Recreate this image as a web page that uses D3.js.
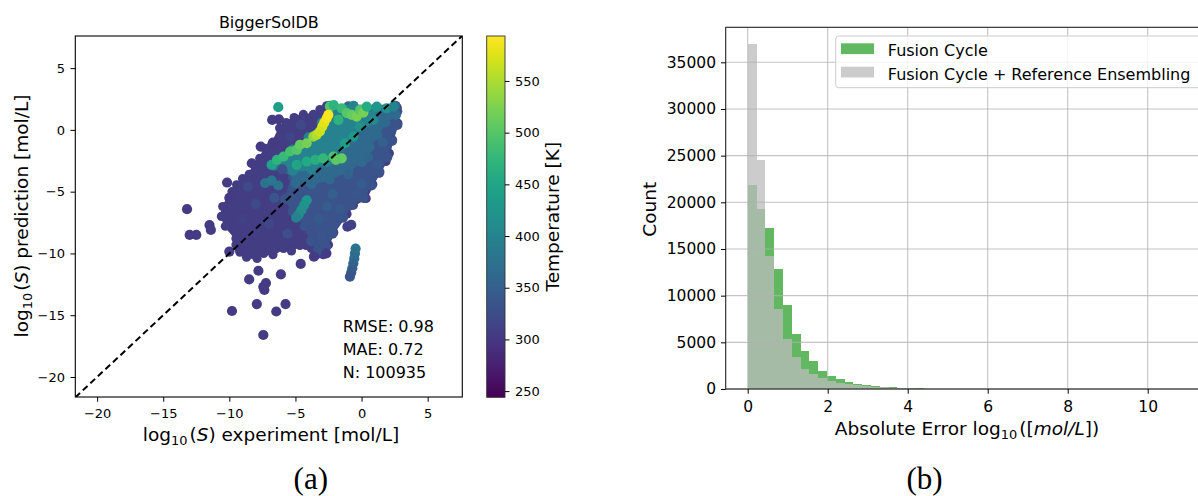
<!DOCTYPE html>
<html>
<head>
<meta charset="utf-8">
<script src="https://cdn.jsdelivr.net/npm/d3@7"></script>
<style>
  html, body { margin: 0; padding: 0; background: #fff; }
  svg { display: block; font-family: "DejaVu Sans", sans-serif; }
</style>
</head>
<body>
<svg id="chart" width="1198" height="496"></svg>
<script>
// ---------------- DATA ----------------
const scatterTitle = "BiggerSolDB";
const scatterTicks = [-20, -15, -10, -5, 0, 5];
const tempTicks = [250, 300, 350, 400, 450, 500, 550];
const tempRange = [244, 593.5];
const statsLines = ["RMSE: 0.98", "MAE: 0.72", "N: 100935"];

// dense cloud regions (x = experiment, y = prediction), each with a temperature [K]
const cloudBase = [[-2.64,1.95],[2.6,1.95],[2.7,1.8],[2.75,0.54],[2.35,-0.81],[2.1,-1.9],[1.85,-2.56],[1.35,-3.5],[0.85,-4.4],[0.35,-5.55],[-0.62,-6.1],[-1.1,-6.8],[-2.1,-8.3],[-2.5,-9.3],[-2.9,-10.1],[-3.4,-10.1],[-3.8,-9.6],[-4.2,-9.35],[-4.66,-9.35],[-5.3,-9.8],[-5.9,-9.6],[-6.7,-10.1],[-7.4,-10.0],[-7.9,-10.4],[-8.7,-10.3],[-9.2,-9.9],[-9.5,-9.3],[-9.5,-8.8],[-10.3,-7.8],[-10.6,-7.0],[-10.5,-6.2],[-9.8,-5.0],[-9.45,-4.45],[-9.0,-3.95],[-8.5,-3.6],[-8.15,-2.83],[-7.7,-2.3],[-7.3,-1.5],[-6.8,-1.2],[-6.2,0.15],[-5.7,0.6],[-5.1,1.0],[-4.4,1.25],[-3.65,1.25],[-3.15,1.65]];
const cloudBaseT = 306;
const cloudBlue = [[-3.5,-1.8],[-1.5,-0.3],[0.3,0.8],[2.0,1.6],[2.7,1.5],[2.7,0.4],[2.3,-0.9],[1.95,-2.2],[1.35,-3.4],[0.75,-4.5],[0.15,-5.5],[-0.8,-6.1],[-1.4,-7.1],[-2.2,-8.4],[-2.7,-9.5],[-3.3,-9.8],[-3.8,-9.0],[-4.3,-7.8],[-5.2,-6.6],[-5.8,-5.6],[-5.2,-3.8]];
const cloudBlueT = 333;
const cloudTealBlue = [[-5.5,-3.2],[-4,-1.6],[-2.8,-0.5],[-1.8,0.8],[-1.0,1.9],[2.55,1.95],[2.6,1.2],[1.8,0.6],[1.2,-0.4],[0.6,-1.4],[0,-2.6],[-1,-3.3],[-2.4,-4.0],[-3.8,-4.4],[-5.0,-4.3]];
const cloudTealBlueT = 362;
const cloudTeal = [[-6.6,-2.9],[-5.2,-1.6],[-4.0,-0.6],[-3.0,0.6],[-2.4,1.95],[-0.6,1.95],[0.8,1.6],[0.4,0.6],[-0.6,-0.4],[-1.6,-1.4],[-2.6,-2.6],[-3.8,-3.2],[-5.2,-3.3]];
const cloudTealT = 398;

// individual visible points: [experiment, prediction, temperature]
const scatterPoints = [
  // texture inside the cloud
  [-8.0,-6.0,322],[-7.0,-7.6,318],[-5.6,-8.4,326],[-3.2,-7.2,342],[-2.2,-5.2,350],[-1.0,-3.6,352],[0.5,-2.2,356],[1.6,-1.0,350],
  [-6.6,-5.5,338],[-8.6,-4.6,322],[-9.0,-7.2,312],[-6.0,-3.2,330],[-3.0,-8.6,336],[-1.6,-6.4,340],[0.0,-4.4,345],[1.2,-2.8,340],
  [-4.6,0.4,320],[-5.4,-0.6,316],[-3.8,-8.2,330],[-2.6,-6.2,346],[-0.4,-5.2,338],
  // outliers
  [-6.30,1.84,440],
  [-6.76,0.81,305],[-6.25,0.86,305],
  [-6.70,-1.03,305],[-7.63,-1.35,305],[-8.30,-2.70,305],
  [-10.17,-4.26,305],[-10.00,-5.50,305],[-13.20,-6.42,305],
  [-13.00,-8.50,305],[-12.50,-8.50,305],[-11.50,-7.70,305],[-11.40,-8.10,305],
  [-10.00,-9.85,305],[-9.20,-9.70,305],[-8.50,-12.10,305],[-7.80,-11.40,305],
  [-7.43,-12.70,305],[-7.23,-12.40,305],[-7.35,-12.95,305],[-6.10,-11.70,305],
  [-9.80,-14.66,305],[-7.92,-14.10,305],[-6.45,-14.70,305],[-5.75,-14.10,305],
  [-7.43,-16.60,305],[-4.60,-10.85,305],[-3.60,-10.26,305],[-2.66,-9.99,305],
  [-1.07,-7.83,310],[-0.78,-7.69,310],
  // teal column
  [-0.45,-9.60,378],[-0.50,-10.0,372],[-0.55,-10.4,365],[-0.62,-10.8,358],[-0.70,-11.2,350],[-0.78,-11.55,342],[-0.88,-11.88,335],
  // lower teal streak
  [-4.15,-5.7,430],[-4.35,-6.1,425],[-4.55,-6.5,420],[-4.75,-6.85,410],[-4.95,-7.1,400],
  [-7.3,-4.3,375],[-6.8,-4.1,385],[-6.3,-4.5,378],
  // green bands
  [-6.80,-2.83,445],[-6.4,-2.43,470],[-5.9,-2.16,480],[-5.4,-1.75,490],[-4.9,-1.62,500],[-4.66,-1.21,510],[-4.15,-1.08,520],[-3.65,-0.54,535],
  [-4.9,-2.83,450],[-4.15,-2.56,455],[-3.5,-2.43,465],[-2.9,-2.3,475],[-2.13,-2.16,495],[-1.5,-2.3,510],[-1.94,-2.43,505],
  // top row
  [-2.39,1.89,500],[-2.1,2.0,470],[-1.5,1.75,480],[-1.12,1.35,500],[-0.74,1.21,510],[-0.37,1.08,520],[-0.11,1.62,500],[0.14,1.40,520],[0.39,1.89,460],[1.15,1.89,430],[1.9,1.75,420],[2.41,1.89,400],[-1.75,0.81,470],
  [-0.11,0.27,420],[-0.62,-0.54,430],[-1.25,-1.08,440],[0.9,0.81,410],
  // yellow streak
  [-3.4,-0.4,555],[-3.15,-0.13,565],[-2.97,0.27,572],[-2.82,0.59,578],[-2.64,0.94,585],[-2.51,1.21,590]
];

// histogram
const histBinWidth = 0.22;
const histXTicks = [0, 2, 4, 6, 8, 10];
const histYTicks = [0, 5000, 10000, 15000, 20000, 25000, 30000, 35000];
const histSeries = ["Fusion Cycle", "Fusion Cycle + Reference Ensembling"];
const fusionCycleCounts = [21850,19240,17210,12850,9000,5890,4040,3000,1960,1390,1070,780,570,430,290,250,180,140,90,60,40,30,20,15,10,8,6,4,3,2,2,1,1,1,0,0,0,0,0,0,0,0,0,0,0,0,0,0,0,1];
const ensembleCounts   = [36920,24530,14280,8570,5320,3390,2180,1570,1180,860,640,500,390,320,220,180,140,100,70,50,35,25,18,12,8,6,4,3,2,2,1,1,1,0,0,0,0,0,0,0,0,0,0,0,0,0,0,0,0,1];

// ---------------- DRAW ----------------
const svg = d3.select("#chart");
svg.append("rect").attr("width", 1198).attr("height", 496).attr("fill", "#fff");
const minus = d => (d < 0 ? "\u2212" + Math.abs(d) : String(d));
const R = 5.1;

// ===== Left panel =====
const sx = d3.scaleLinear().domain([-21.65, 7.62]).range([75.3, 462.3]);
const sy = d3.scaleLinear().domain([-21.62, 7.6]).range([397, 36]);
const tColor = d3.scaleSequential(d3.interpolateViridis).domain(tempRange);

svg.append("clipPath").attr("id", "clipL").append("rect")
  .attr("x", sx.range()[0]).attr("y", sy.range()[1])
  .attr("width", sx.range()[1] - sx.range()[0]).attr("height", sy.range()[0] - sy.range()[1]);

const gL = svg.append("g").attr("clip-path", "url(#clipL)");
const poly = d3.line().x(d => sx(d[0])).y(d => sy(d[1])).curve(d3.curveLinearClosed);
[[cloudBase, cloudBaseT], [cloudBlue, cloudBlueT], [cloudTealBlue, cloudTealBlueT], [cloudTeal, cloudTealT]].forEach(([pts, t], k) => {
  gL.append("path").attr("d", poly(pts))
    .attr("fill", tColor(t)).attr("stroke", tColor(t))
    .attr("stroke-width", 2).attr("stroke-linejoin", "round");
  gL.append("g").selectAll("circle").data(pts).join("circle")
    .attr("cx", d => sx(d[0])).attr("cy", d => sy(d[1])).attr("r", k === 0 ? R - 0.5 : R)
    .attr("fill", tColor(t));
});
gL.selectAll("circle.pt").data(scatterPoints).join("circle")
  .attr("class", "pt")
  .attr("cx", d => sx(d[0])).attr("cy", d => sy(d[1])).attr("r", R)
  .attr("fill", d => tColor(d[2]));

// diagonal
gL.append("line")
  .attr("x1", sx(-21.65)).attr("y1", sy(-21.65))
  .attr("x2", sx(7.62)).attr("y2", sy(7.62))
  .attr("stroke", "#000").attr("stroke-width", 2).attr("stroke-dasharray", "6.5,3.8");

// frame
svg.append("rect")
  .attr("x", sx.range()[0]).attr("y", sy.range()[1])
  .attr("width", sx.range()[1] - sx.range()[0]).attr("height", sy.range()[0] - sy.range()[1])
  .attr("fill", "none").attr("stroke", "#000").attr("stroke-width", 1.1);

function styleAxis(g, fs) {
  g.select(".domain").remove();
  g.selectAll(".tick line").attr("stroke", "#000").attr("stroke-width", 1);
  g.selectAll(".tick text").attr("fill", "#000").attr("font-size", fs).attr("font-family", "DejaVu Sans");
}
svg.append("g").attr("transform", `translate(0,${sy.range()[0]})`)
  .call(d3.axisBottom(sx).tickValues(scatterTicks).tickFormat(minus).tickSize(4.7).tickPadding(7))
  .call(g => styleAxis(g, 13));
svg.append("g").attr("transform", `translate(${sx.range()[0]},0)`)
  .call(d3.axisLeft(sy).tickValues(scatterTicks).tickFormat(minus).tickSize(4.8).tickPadding(5.5))
  .call(g => styleAxis(g, 13));

svg.append("text").attr("x", 268.8).attr("y", 28.3).attr("text-anchor", "middle")
  .attr("font-size", 16).text(scatterTitle);

svg.append("g").selectAll("text").data(statsLines).join("text")
  .attr("x", 342.7).attr("y", (d, i) => 331.7 + i * 23.3)
  .attr("font-size", 16).text(d => d);

// axis labels with log10 subscript
function logLabel(t, fs, pre, post, mid) {
  if (pre) t.append("tspan").text(pre);
  t.append("tspan").text("log");
  const sub = fs * 0.24;
  t.append("tspan").attr("font-size", fs * 0.7).attr("dy", sub).text("10");
  t.append("tspan").attr("dy", -sub).attr("dx", 2).text(mid[0]);
  t.append("tspan").attr("font-style", "italic").text(mid[1]);
  t.append("tspan").text(mid[2] + post);
}
const xl = svg.append("text").attr("x", 271).attr("y", 441).attr("text-anchor", "middle").attr("font-size", 18.5);
logLabel(xl, 18.5, "", " experiment [mol/L]", ["(", "S", ")"]);
const yl = svg.append("text").attr("transform", "translate(27.5,216) rotate(-90)").attr("text-anchor", "middle").attr("font-size", 18.5);
logLabel(yl, 18.5, "", " prediction [mol/L]", ["(", "S", ")"]);

// colorbar
const cbX = 486.7, cbW = 18.3;
const cy = d3.scaleLinear().domain(tempRange).range([397.3, 36]);
const grad = svg.append("defs").append("linearGradient").attr("id", "vir")
  .attr("x1", 0).attr("y1", 1).attr("x2", 0).attr("y2", 0);
d3.range(0, 1.0001, 0.05).forEach(s => grad.append("stop").attr("offset", s).attr("stop-color", d3.interpolateViridis(s)));
svg.append("rect").attr("x", cbX).attr("y", cy.range()[1]).attr("width", cbW)
  .attr("height", cy.range()[0] - cy.range()[1]).attr("fill", "url(#vir)")
  .attr("stroke", "#333").attr("stroke-width", 0.9);
svg.append("g").attr("transform", `translate(${cbX + cbW},0)`)
  .call(d3.axisRight(cy).tickValues(tempTicks).tickSize(4.5).tickPadding(5.5))
  .call(g => styleAxis(g, 13));
svg.append("text").attr("transform", "translate(559,216.7) rotate(-90)").attr("text-anchor", "middle")
  .attr("font-size", 18.5).text("Temperature [K]");

svg.append("text").attr("x", 310.8).attr("y", 489).attr("text-anchor", "middle")
  .attr("font-family", "Liberation Serif, serif").attr("font-size", 31).text("(a)");

// ===== Right panel =====
const hx = d3.scaleLinear().domain([-0.55, 11.55]).range([725.7, 1209.7]);
const hy = d3.scaleLinear().domain([0, 38750]).range([389, 27.3]);

const gR = svg.append("g");
function bars(counts, fill, op) {
  gR.append("g").selectAll("rect").data(counts).join("rect")
    .attr("x", (d, i) => hx(i * histBinWidth))
    .attr("width", (d, i) => hx((i + 1) * histBinWidth) - hx(i * histBinWidth))
    .attr("y", d => hy(d)).attr("height", d => hy(0) - hy(d))
    .attr("fill", fill).attr("fill-opacity", op).attr("shape-rendering", "crispEdges");
}
bars(fusionCycleCounts, "#2ca02c", 0.75);
bars(ensembleCounts, "rgb(188,188,188)", 0.76);

// grid (drawn above bars as in matplotlib)
gR.append("g").selectAll("line").data(histXTicks).join("line")
  .attr("x1", d => hx(d)).attr("x2", d => hx(d)).attr("y1", hy.range()[1]).attr("y2", hy.range()[0])
  .attr("stroke", "#b0b0b0").attr("stroke-opacity", 0.75).attr("stroke-width", 1.1);
gR.append("g").selectAll("line").data(histYTicks).join("line")
  .attr("y1", d => hy(d)).attr("y2", d => hy(d)).attr("x1", hx.range()[0]).attr("x2", hx.range()[1])
  .attr("stroke", "#b0b0b0").attr("stroke-opacity", 0.75).attr("stroke-width", 1.1);

// spines
svg.append("rect").attr("x", hx.range()[0]).attr("y", hy.range()[1])
  .attr("width", hx.range()[1] - hx.range()[0]).attr("height", hy.range()[0] - hy.range()[1])
  .attr("fill", "none").attr("stroke", "#222").attr("stroke-width", 1.1);

svg.append("g").attr("transform", `translate(0,${hy.range()[0]})`)
  .call(d3.axisBottom(hx).tickValues(histXTicks).tickSize(4.7).tickPadding(7.6))
  .call(g => styleAxis(g, 15.5));
svg.append("g").attr("transform", `translate(${hx.range()[0]},0)`)
  .call(d3.axisLeft(hy).tickValues(histYTicks).tickFormat(d3.format("d")).tickSize(4.7).tickPadding(5))
  .call(g => styleAxis(g, 15.5));

svg.append("text").attr("transform", "translate(656,209.3) rotate(-90)").attr("text-anchor", "middle")
  .attr("font-size", 18.5).text("Count");
const hxl = svg.append("text").attr("x", 967).attr("y", 435).attr("text-anchor", "middle").attr("font-size", 18.5);
logLabel(hxl, 18.5, "Absolute Error ", "])", ["([", "mol/L", ""]);

// legend
const lg = svg.append("g");
lg.append("rect").attr("x", 835.7).attr("y", 36).attr("width", 372).attr("height", 51.7)
  .attr("rx", 3).attr("fill", "#fff").attr("fill-opacity", 0.8)
  .attr("stroke", "#cccccc").attr("stroke-width", 1);
const legendFills = [["#2ca02c", 0.75], ["rgb(188,188,188)", 0.76]];
histSeries.forEach((name, i) => {
  lg.append("rect").attr("x", 841).attr("y", 43.3 + i * 23.4).attr("width", 33).attr("height", 10.8)
    .attr("fill", legendFills[i][0]).attr("fill-opacity", legendFills[i][1]);
  lg.append("text").attr("x", 887.8).attr("y", 55.7 + i * 24.3).attr("font-size", 16).text(name);
});

svg.append("text").attr("x", 924.6).attr("y", 489).attr("text-anchor", "middle")
  .attr("font-family", "Liberation Serif, serif").attr("font-size", 31).text("(b)");
</script>
</body>
</html>
